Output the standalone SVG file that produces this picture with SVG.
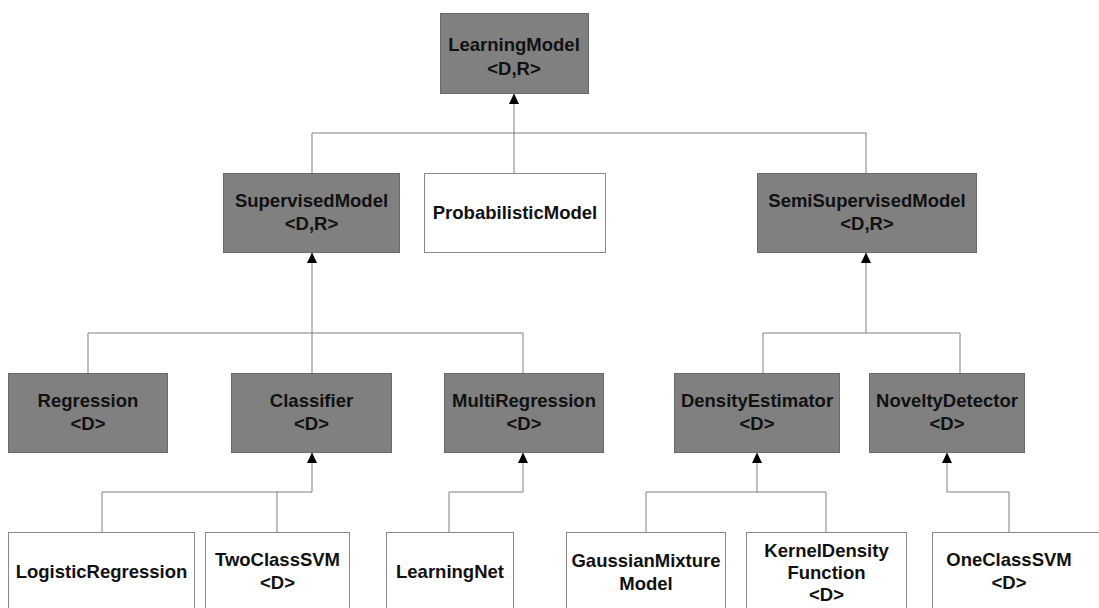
<svg xmlns="http://www.w3.org/2000/svg" width="1099" height="608" viewBox="0 0 1099 608">
  <style>
    .abstract { fill: #808080; stroke: #6a6a6a; stroke-width: 1; }
    .concrete { fill: #ffffff; stroke: #8a8a8a; stroke-width: 1; }
    .label { font-family: "Liberation Sans", Arial, sans-serif; font-size: 18.5px; font-weight: bold; fill: #111111; text-anchor: middle; }
    .link { fill: none; stroke: #808080; stroke-width: 1; }
    .head { fill: #000000; }
  </style>
  <rect width="1099" height="608" fill="#ffffff"/>

  <!-- inheritance connectors: each child joins a shared bus, one trunk climbs to the parent -->
  <g id="connectors">
    <path class="link" d="M514,93.5 V133"/>
    <path class="link" d="M312,133 H866"/>
    <path class="link" d="M312,133 V173"/>
    <path class="link" d="M514,133 V173"/>
    <path class="link" d="M866,133 V173"/>
    <polygon class="head" points="514,93.5 509,104 519,104"/>

    <path class="link" d="M312,252.5 V333"/>
    <path class="link" d="M88,333 H523"/>
    <path class="link" d="M88,333 V373"/>
    <path class="link" d="M312,333 V373"/>
    <path class="link" d="M523,333 V373"/>
    <polygon class="head" points="312,252.5 307,263 317,263"/>

    <path class="link" d="M866,252.5 V333"/>
    <path class="link" d="M763,333 H960"/>
    <path class="link" d="M763,333 V373"/>
    <path class="link" d="M960,333 V373"/>
    <polygon class="head" points="866,252.5 861,263 871,263"/>

    <path class="link" d="M312,452.5 V492 H102 V532"/>
    <path class="link" d="M277,492 V532"/>
    <polygon class="head" points="312,452.5 307,463 317,463"/>

    <path class="link" d="M523,452.5 V492 H449 V532"/>
    <polygon class="head" points="523,452.5 518,463 528,463"/>

    <path class="link" d="M757,452.5 V492 H646 V532"/>
    <path class="link" d="M757,492 H826 V532"/>
    <polygon class="head" points="757,452.5 752,463 762,463"/>

    <path class="link" d="M947,452.5 V492 H1009 V532"/>
    <polygon class="head" points="947,452.5 942,463 952,463"/>
  </g>

  <g id="LearningModel">
    <rect class="abstract" x="440.5" y="13.5" width="148" height="80"/>
    <text class="label" x="514" y="51">LearningModel</text>
    <text class="label" x="514" y="75">&lt;D,R&gt;</text>
  </g>

  <g id="SupervisedModel">
    <rect class="abstract" x="223.5" y="173.5" width="176" height="79"/>
    <text class="label" x="311.5" y="207">SupervisedModel</text>
    <text class="label" x="311.5" y="230">&lt;D,R&gt;</text>
  </g>

  <g id="ProbabilisticModel">
    <rect class="concrete" x="424.5" y="173.5" width="181" height="79"/>
    <text class="label" x="515" y="219">ProbabilisticModel</text>
  </g>

  <g id="SemiSupervisedModel">
    <rect class="abstract" x="757.5" y="173.5" width="219" height="79"/>
    <text class="label" x="867" y="207">SemiSupervisedModel</text>
    <text class="label" x="867" y="230">&lt;D,R&gt;</text>
  </g>

  <g id="Regression">
    <rect class="abstract" x="8.5" y="373.5" width="159" height="79"/>
    <text class="label" x="88" y="407">Regression</text>
    <text class="label" x="88" y="430">&lt;D&gt;</text>
  </g>

  <g id="Classifier">
    <rect class="abstract" x="231.5" y="373.5" width="160" height="79"/>
    <text class="label" x="311.5" y="407">Classifier</text>
    <text class="label" x="311.5" y="430">&lt;D&gt;</text>
  </g>

  <g id="MultiRegression">
    <rect class="abstract" x="444.5" y="373.5" width="159" height="79"/>
    <text class="label" x="524" y="407">MultiRegression</text>
    <text class="label" x="524" y="430">&lt;D&gt;</text>
  </g>

  <g id="DensityEstimator">
    <rect class="abstract" x="674.5" y="373.5" width="165" height="79"/>
    <text class="label" x="757" y="407">DensityEstimator</text>
    <text class="label" x="757" y="430">&lt;D&gt;</text>
  </g>

  <g id="NoveltyDetector">
    <rect class="abstract" x="869.5" y="373.5" width="155" height="79"/>
    <text class="label" x="947" y="407">NoveltyDetector</text>
    <text class="label" x="947" y="430">&lt;D&gt;</text>
  </g>

  <g id="LogisticRegression">
    <rect class="concrete" x="8.5" y="532.5" width="186" height="80"/>
    <text class="label" x="101.5" y="578">LogisticRegression</text>
  </g>

  <g id="TwoClassSVM">
    <rect class="concrete" x="205.5" y="532.5" width="144" height="80"/>
    <text class="label" x="277.5" y="566">TwoClassSVM</text>
    <text class="label" x="277.5" y="589">&lt;D&gt;</text>
  </g>

  <g id="LearningNet">
    <rect class="concrete" x="386.5" y="532.5" width="127" height="80"/>
    <text class="label" x="450" y="578">LearningNet</text>
  </g>

  <g id="GaussianMixtureModel">
    <rect class="concrete" x="566.5" y="532.5" width="159" height="80"/>
    <text class="label" x="646" y="567">GaussianMixture</text>
    <text class="label" x="646" y="590">Model</text>
  </g>

  <g id="KernelDensityFunction">
    <rect class="concrete" x="746.5" y="532.5" width="160" height="80"/>
    <text class="label" x="826.5" y="557">KernelDensity</text>
    <text class="label" x="826.5" y="579">Function</text>
    <text class="label" x="826.5" y="601">&lt;D&gt;</text>
  </g>

  <g id="OneClassSVM">
    <rect class="concrete" x="932.5" y="532.5" width="180" height="80"/>
    <text class="label" x="1009" y="566">OneClassSVM</text>
    <text class="label" x="1009" y="589">&lt;D&gt;</text>
  </g>
</svg>
